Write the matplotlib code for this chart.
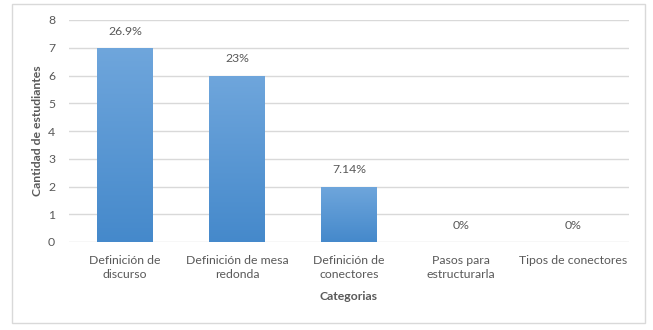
import numpy as np
import matplotlib.pyplot as plt
from matplotlib.colors import LinearSegmentedColormap
from matplotlib.patches import Rectangle

categories = ["Definición de\ndiscurso", "Definición de mesa\nredonda",
              "Definición de\nconectores", "Pasos para\nestructurarla",
              "Tipos de conectores"]
counts = [7, 6, 2, 0, 0]
pct_labels = ["26.9%", "23%", "7.14%", "0%", "0%"]
yticks = [0, 1, 2, 3, 4, 5, 6, 7, 8]

plt.rcParams['font.family'] = ['Lato', 'DejaVu Sans']
text_color = "#595959"
fs = 8.8

W, H = 653, 330
fig = plt.figure(figsize=(W / 100, H / 100), dpi=100)
fig.patch.set_facecolor("white")

# chart frame
fig.add_artist(Rectangle((12 / W, 1 - 323 / H), (645 - 12) / W, (323 - 4) / H,
                         transform=fig.transFigure, fill=False,
                         edgecolor="#d9d9d9", linewidth=1.0))

ax = fig.add_axes([69 / W, 1 - 242 / H, (629 - 69) / W, (242 - 20) / H])
ax.set_xlim(-0.5, len(categories) - 0.5)
ax.set_ylim(0, 8)

for s in ax.spines.values():
    s.set_visible(False)
ax.set_yticks(yticks)
ax.yaxis.grid(True, color="#d9d9d9", linewidth=1.0)
ax.set_axisbelow(True)
ax.tick_params(axis="both", length=0, colors=text_color, labelsize=fs)
ax.tick_params(axis="x", pad=9)
ax.tick_params(axis="y", pad=10)
ax.set_xticks(range(len(categories)))
ax.set_xticklabels(categories, linespacing=1.35)

cmap = LinearSegmentedColormap.from_list("bar", ["#4589cb", "#6fa6dc"])
grad = np.linspace(0, 1, 256).reshape(-1, 1)
width = 0.5
bars = ax.bar(range(len(categories)), counts, width=width, color="none", zorder=2)
for b, v in zip(bars, counts):
    if v <= 0:
        continue
    x0 = b.get_x()
    im = ax.imshow(grad, cmap=cmap, origin="lower", aspect="auto",
                   extent=(x0, x0 + width, 0, v), zorder=2)
    im.set_clip_path(b)

for i, (v, lab) in enumerate(zip(counts, pct_labels)):
    ax.annotate(lab, (i, v), xytext=(0, 8), textcoords="offset points",
                ha="center", va="bottom", color=text_color, fontsize=fs)

ax.set_xlim(-0.5, len(categories) - 0.5)
ax.set_ylim(0, 8)

fig.text(349 / W, 1 - 297 / H, "Categorias", ha="center", va="center",
         fontsize=fs, fontweight="bold", color=text_color)
fig.text(38 / W, 1 - 131 / H, "Cantidad de estudiantes", ha="center", va="center",
         rotation=90, fontsize=fs, fontweight="bold", color=text_color)

fig.savefig("out.png", dpi=100, facecolor="white")
